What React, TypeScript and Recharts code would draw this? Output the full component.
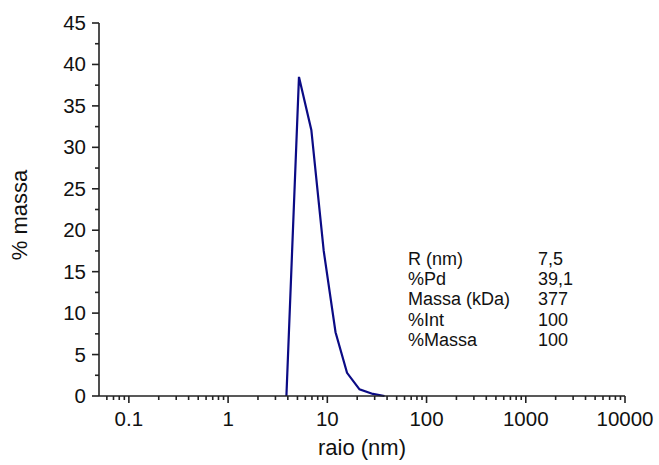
import * as React from 'react'
import { LineChart, Line, XAxis, YAxis } from 'recharts'

// radius (nm) vs % mass
const radius = [3.87, 5.18, 6.9, 9.2, 12.1, 15.8, 21.1, 28.8, 37.7]
const massPct = [0, 38.5, 32.1, 17.5, 7.7, 2.8, 0.8, 0.25, 0]

const xMajor = [0.1, 1, 10, 100, 1000, 10000]
const xMinor = [0.06, 0.07, 0.08, 0.09, 0.2, 0.3, 0.4, 0.5, 0.6, 0.7, 0.8, 0.9,
  2, 3, 4, 5, 6, 7, 8, 9, 20, 30, 40, 50, 60, 70, 80, 90,
  200, 300, 400, 500, 600, 700, 800, 900, 2000, 3000, 4000, 5000, 6000, 7000, 8000, 9000]
const yMajor = [0, 5, 10, 15, 20, 25, 30, 35, 40, 45]
const yMinor = [2.5, 7.5, 12.5, 17.5, 22.5, 27.5, 32.5, 37.5, 42.5]

const infoLabels = ['R (nm)', '%Pd', 'Massa (kDa)', '%Int', '%Massa']
const infoValues = ['7,5', '39,1', '377', '100', '100']

const data = radius.map((r, i) => ({ r, m: massPct[i] }))

const FONT = '"Liberation Sans", Arial, sans-serif'
const AXIS = '#222'

const XTick = (props: any) => {
  const { x, y, payload } = props
  const major = xMajor.includes(payload.value)
  return (
    <g>
      <line x1={x} x2={x} y1={y} y2={y + (major ? 7 : 4)} stroke={AXIS} strokeWidth={1.6} />
      {major && (
        <text x={x} y={y + 30} textAnchor="middle" fontSize={20.5} fontFamily={FONT} fill="#111">
          {payload.value}
        </text>
      )}
    </g>
  )
}

const YTick = (props: any) => {
  const { x, y, payload } = props
  const major = yMajor.includes(payload.value)
  return (
    <g>
      <line x1={x} x2={x - (major ? 7 : 4)} y1={y} y2={y} stroke={AXIS} strokeWidth={1.6} />
      {major && (
        <text x={x - 13} y={y + 7} textAnchor="end" fontSize={20.5} fontFamily={FONT} fill="#111">
          {payload.value}
        </text>
      )}
    </g>
  )
}

export default function App() {
  return (
    <div style={{ position: 'absolute', left: 0, top: 0, width: 659, height: 465, background: '#fff', fontFamily: FONT }}>
      <LineChart width={659} height={465} data={data} margin={{ top: 23, right: 34, bottom: 0, left: 0 }}>
        <XAxis
          dataKey="r"
          type="number"
          scale="log"
          domain={[0.05, 10000]}
          allowDataOverflow
          ticks={[...xMajor, ...xMinor]}
          interval={0}
          height={69}
          tickSize={0}
          tickMargin={0}
          tickLine={false}
          tick={<XTick />}
          axisLine={{ stroke: AXIS, strokeWidth: 1.6 }}
        />
        <YAxis
          type="number"
          domain={[0, 45]}
          ticks={[...yMajor, ...yMinor]}
          interval={0}
          width={99}
          tickSize={0}
          tickMargin={0}
          tickLine={false}
          tick={<YTick />}
          axisLine={{ stroke: AXIS, strokeWidth: 1.6 }}
        />
        <Line
          dataKey="m"
          type="linear"
          stroke="#0b0b85"
          strokeWidth={2.2}
          dot={false}
          isAnimationActive={false}
        />
      </LineChart>
      <div style={{ position: 'absolute', left: 362, top: 435, transform: 'translateX(-50%)', fontSize: 22, color: '#111', whiteSpace: 'nowrap' }}>
        raio (nm)
      </div>
      <div style={{ position: 'absolute', left: 20, top: 215, transform: 'translate(-50%, -50%) rotate(-90deg)', fontSize: 22, color: '#111', whiteSpace: 'nowrap' }}>
        % massa
      </div>
      {infoLabels.map((lab, i) => (
        <React.Fragment key={lab}>
          <div style={{ position: 'absolute', left: 408, top: 249 + i * 20.2, fontSize: 18, color: '#111', whiteSpace: 'nowrap' }}>{lab}</div>
          <div style={{ position: 'absolute', left: 538, top: 249 + i * 20.2, fontSize: 18, color: '#111', whiteSpace: 'nowrap' }}>{infoValues[i]}</div>
        </React.Fragment>
      ))}
    </div>
  )
}
